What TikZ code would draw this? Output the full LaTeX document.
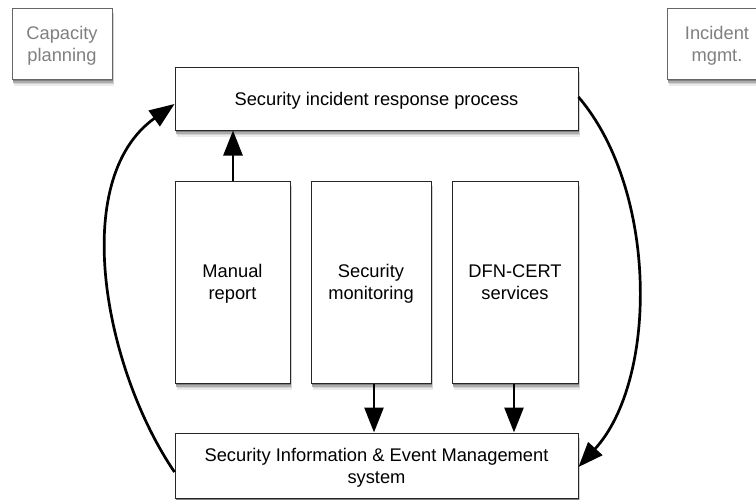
\documentclass[tikz,border=0pt]{standalone}
\usepackage{fontspec}
\setmainfont{Liberation Sans}
\usetikzlibrary{arrows.meta}
\tikzset{
  box/.style={draw=black!85, line width=1pt, fill=white, inner sep=0pt, align=center,
    font=\fontsize{18.3}{22}\selectfont, text depth=0pt},
  graybox/.style={box, draw=black!60, text=black!50},
  conn/.style={line width=2.7pt, -{Triangle[length=25pt,width=19pt]}},
}
\newcommand\myshadow[4]{%
  \fill[black!8]  (#1+2.2,#2+6.5) rectangle (#3+2.2,#4+6.5);
  \fill[black!18] (#1+1.8,#2+5) rectangle (#3+1.8,#4+5);
  \fill[black!32] (#1+1.4,#2+3.5) rectangle (#3+1.4,#4+3.5);
  \fill[black!50] (#1+1,#2+2) rectangle (#3+1,#4+2);
}
\begin{document}
\begin{tikzpicture}[x=1pt,y=-1pt]
\useasboundingbox (0,0) rectangle (756,499);
\fill[white] (0,0) rectangle (756,499);
\myshadow{12}{8}{112}{79}
\myshadow{667}{8}{767}{79}
\myshadow{175}{67}{578}{130}
\myshadow{175}{181}{290}{383}
\myshadow{311}{181}{431}{383}
\myshadow{452}{181}{578}{383}
\myshadow{175}{433}{578}{498}
\node[graybox, minimum width=100pt, minimum height=71pt] (cap) at (62,43.5) {Capacity\\planning};
\node[graybox, minimum width=100pt, minimum height=71pt] (inc) at (717,43.5) {Incident\\mgmt.};
\node[box, minimum width=403pt, minimum height=63pt] (sirp) at (376.5,98.5) {Security incident response process};
\node[box, minimum width=115pt, minimum height=202pt] (man) at (232.5,282) {Manual\\report};
\node[box, minimum width=120pt, minimum height=202pt] (mon) at (371,282) {Security\\monitoring};
\node[box, minimum width=126pt, minimum height=202pt] (dfn) at (515,282) {DFN-CERT\\services};
\node[box, minimum width=403pt, minimum height=65pt] (siem) at (376.5,465.5) {Security Information \& Event Management\\system};
\draw[conn] (man.north -| 233,0) -- (sirp.south -| 233,0);
\draw[conn] (mon.south -| 374,0) -- (siem.north -| 374,0);
\draw[conn] (dfn.south -| 514,0) -- (siem.north -| 514,0);
\draw[conn] (siem.west |- 0,472) .. controls (105,370) and (68,180) .. (sirp.west |- 0,104);
\draw[conn] (sirp.east |- 0,97) .. controls (658,190) and (658,380) .. (siem.east |- 0,467);
\end{tikzpicture}
\end{document}
